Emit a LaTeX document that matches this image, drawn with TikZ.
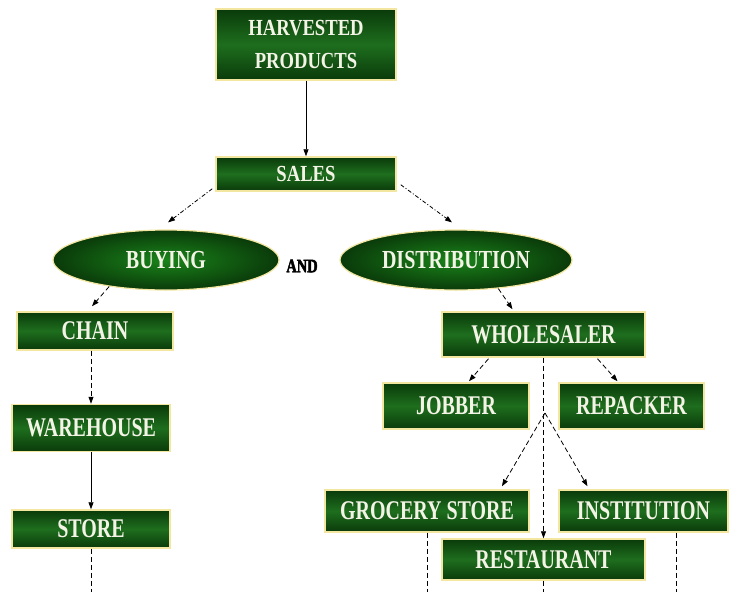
\documentclass[tikz,border=0pt]{standalone}
\usepackage{fontspec}
\newfontfamily\boxfontA[FakeStretch=0.74]{Liberation Serif}
\newfontfamily\boxfontB[FakeStretch=0.81]{Liberation Serif}
\newfontfamily\ellfont[FakeStretch=0.77]{Liberation Serif}
\newfontfamily\andfont[FakeStretch=0.76,FakeBold=2.5]{Liberation Serif}
\usetikzlibrary{arrows.meta,shapes.geometric,shadings,calc}
\definecolor{gdark}{HTML}{0A3A0A}
\definecolor{gmid}{HTML}{1E6E1E}
\definecolor{gborder}{HTML}{F2E6A0}
\definecolor{gtext}{HTML}{F4F4E6}
\tikzset{
  gbox/.style={rectangle, draw=gborder, line width=1.5pt, top color=gdark, bottom color=gdark, middle color=gmid,
    text=gtext, font=\boxfontA\bfseries\fontsize{27}{32}\selectfont, align=center, inner sep=0pt},
  gboxsmall/.style={gbox, font=\boxfontB\bfseries\fontsize{23}{33}\selectfont},
  gell/.style={ellipse, draw=gborder, line width=1.2pt, inner color=gmid!85!green, outer color=gdark,
    text=gtext, font=\ellfont\bfseries\fontsize{26}{28}\selectfont, inner sep=0pt},
  conn/.style={draw=black, line width=0.8pt, -{Triangle[length=7pt,width=5pt]}},
  dsh/.style={dash pattern=on 5pt off 3pt},
  dashdot/.style={dash pattern=on 4pt off 2pt on 1pt off 2pt},
  plain/.style={draw=black, line width=0.8pt, dash pattern=on 5pt off 3pt}
}
\begin{document}
\begin{tikzpicture}[x=1pt,y=-1pt]
\useasboundingbox[fill=white] (0,0) rectangle (732,592);
% nodes
\node[gboxsmall, minimum width=180pt, minimum height=71pt] (hp) at (306,44.5) {HARVESTED\\PRODUCTS};
\node[gboxsmall, minimum width=180pt, minimum height=34pt] (sales) at (306,174) {SALES};
\node[gell, minimum width=226pt, minimum height=60pt] (buying) at (166,260) {BUYING};
\node[gell, minimum width=232pt, minimum height=60pt] (dist) at (456,260) {DISTRIBUTION};
\node[font=\andfont\bfseries\fontsize{19}{20}\selectfont, text=black, inner sep=0pt] (and) at (302,266) {AND};
\node[gbox, minimum width=156pt, minimum height=38pt] (chain) at (95,331) {CHAIN};
\node[gbox, minimum width=158pt, minimum height=47pt] (ware) at (91,428) {WAREHOUSE};
\node[gbox, minimum width=158pt, minimum height=38pt] (store) at (91,529) {STORE};
\node[gbox, minimum width=203pt, minimum height=45pt] (whole) at (543.5,334.5) {WHOLESALER};
\node[gbox, minimum width=146pt, minimum height=46pt] (jobber) at (456,406) {JOBBER};
\node[gbox, minimum width=145pt, minimum height=46pt] (repack) at (631.5,406) {REPACKER};
\node[gbox, minimum width=204pt, minimum height=42pt] (grocery) at (427,511) {GROCERY STORE};
\node[gbox, minimum width=169pt, minimum height=42pt] (inst) at (643.5,511) {INSTITUTION};
\node[gbox, minimum width=203pt, minimum height=41pt] (rest) at (543.5,559.5) {RESTAURANT};
% coordinates
\coordinate (fork) at (545,413);
\coordinate (e1) at (91,592);
\coordinate (e2) at (427,592);
\coordinate (e3) at (543.5,592);
\coordinate (e4) at (676,592);
% connectors
\draw[conn] (hp.south) -- (sales.north);
\draw[conn, dashdot] ($(sales.south west)+(-3,-3)$) -- ($(buying.north)+(2,-7)$);
\draw[conn, dashdot] ($(sales.south east)+(4,-7)$) -- ($(dist.north)+(-4,-7)$);
\draw[conn, dsh] (buying.205) -- ($(chain.north)+(-3,-5)$);
\draw[conn, dsh] (dist.326) -- ($(whole.north)+(-31,-2)$);
\draw[conn, dsh] (chain.south -| ware.north) -- (ware.north);
\draw[conn] (ware.south) -- (store.north);
\draw[conn, dsh] ($(whole.south)+(-55,1)$) -- ($(jobber.north)+(13,-1)$);
\draw[conn, dsh] ($(whole.south)+(54,1)$) -- ($(repack.north)+(-14,-1)$);
\draw[conn, dsh] (whole.south) -- (rest.north);
\draw[conn, dsh] (fork) -- ($(grocery.north)+(75,-3)$);
\draw[conn, dsh] (fork) -- ($(inst.north)+(-56,-3)$);
\draw[plain] (store.south) -- (e1);
\draw[plain] (grocery.south) -- (e2);
\draw[plain] (rest.south) -- (e3);
\draw[plain] (inst.south -| e4) -- (e4);
\end{tikzpicture}
\end{document}
